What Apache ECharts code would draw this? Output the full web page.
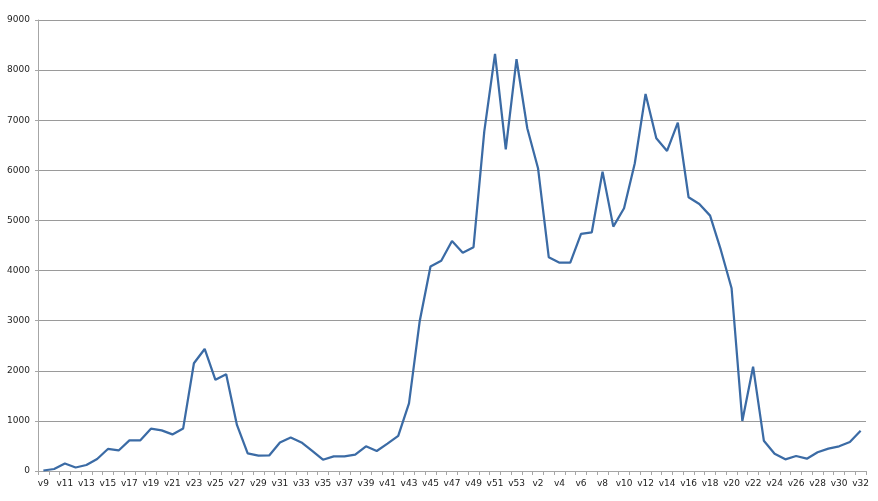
<!DOCTYPE html>
<html>
<head>
<meta charset="utf-8">
<script src="https://cdn.jsdelivr.net/npm/echarts@6/dist/echarts.min.js"></script>
<style>html,body{margin:0;padding:0;background:#fff}#c{width:878px;height:501px}</style>
</head>
<body>
<div id="c"></div>
<script>
const categories = ["v9","v10","v11","v12","v13","v14","v15","v16","v17","v18","v19","v20","v21","v22","v23","v24","v25","v26","v27","v28","v29","v30","v31","v32","v33","v34","v35","v36","v37","v38","v39","v40","v41","v42","v43","v44","v45","v46","v47","v48","v49","v50","v51","v52","v53",
"v1","v2","v3","v4","v5","v6","v7","v8","v9","v10","v11","v12","v13","v14","v15","v16","v17","v18","v19","v20","v21","v22","v23","v24","v25","v26","v27","v28","v29","v30","v31","v32"];
const values = [10,40,150,70,120,240,440,410,610,610,845,810,730,850,2150,2435,1820,1930,920,350,305,310,570,670,570,400,225,293,293,325,493,400,545,700,1350,2994,4080,4195,4590,4357,4465,6773,8323,6420,8217,
6840,6042,4265,4158,4158,4730,4764,5974,4876,5243,6142,7525,6640,6387,6952,5463,5329,5096,4411,3647,998,2082,605,345,233,300,246,373,446,493,580,805];
const yTicks = {min:0, max:9000, interval:1000};

const chart = echarts.init(document.getElementById('c'), null, {renderer:'canvas'});
chart.setOption({
  animation:false,
  grid:{left:38, right:12, top:20, bottom:30, containLabel:false},
  xAxis:{
    type:'category', data:categories, boundaryGap:true,
    axisLine:{lineStyle:{color:'#a6a6a6', width:1}},
    axisTick:{show:true, interval:0, length:4, lineStyle:{color:'#a6a6a6'}},
    axisLabel:{interval:1, color:'#222', fontFamily:'DejaVu Sans', fontSize:9, margin:8},
    splitLine:{show:false}
  },
  yAxis:{
    type:'value', min:yTicks.min, max:yTicks.max, interval:yTicks.interval,
    axisLine:{show:true, lineStyle:{color:'#a6a6a6', width:1}},
    axisTick:{show:true, length:3, lineStyle:{color:'#a6a6a6'}},
    axisLabel:{color:'#222', fontFamily:'DejaVu Sans', fontSize:9, margin:8, formatter:function(v){return String(v);}},
    splitLine:{lineStyle:{color:'#9a9a9a', width:1}}
  },
  series:[{
    type:'line', data:values, symbol:'none', smooth:false,
    lineStyle:{color:'#3b6ba5', width:2.25}
  }]
});
</script>
</body>
</html>
